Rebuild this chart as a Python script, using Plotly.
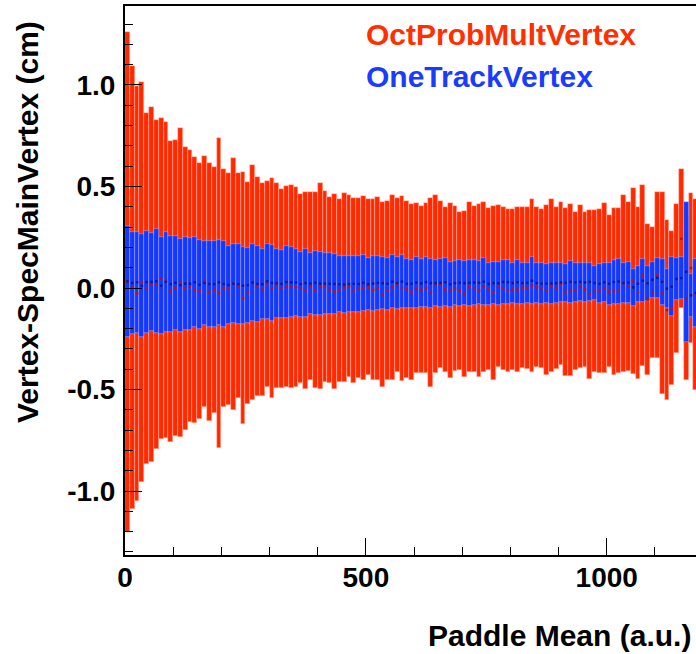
import plotly.graph_objects as go

# Bin layout: 10-unit bins starting at 0
bin_width = 10
n_bins = 119
bin_centers = [bin_width * i + bin_width / 2 for i in range(n_bins)]

# OctProbMultVertex band (upper / lower edge per bin)
red_hi = [1.26, 1.095, 0.995, 1.015, 0.862, 0.893, 0.828, 0.836, 0.816, 0.726,
          0.729, 0.79, 0.695, 0.68, 0.645, 0.617, 0.649, 0.614, 0.596, 0.737,
          0.585, 0.565, 0.639, 0.565, 0.573, 0.524, 0.604, 0.547, 0.517, 0.529,
          0.54, 0.517, 0.489, 0.504, 0.505, 0.496, 0.465, 0.474, 0.472, 0.472,
          0.516, 0.48, 0.45, 0.464, 0.44, 0.466, 0.456, 0.443, 0.443, 0.453,
          0.436, 0.436, 0.448, 0.422, 0.427, 0.46, 0.443, 0.453, 0.431, 0.414,
          0.417, 0.402, 0.417, 0.445, 0.456, 0.43, 0.397, 0.417, 0.404, 0.373,
          0.38, 0.422, 0.404, 0.412, 0.425, 0.392, 0.404, 0.407, 0.401, 0.391,
          0.39, 0.397, 0.399, 0.401, 0.436, 0.399, 0.39, 0.407, 0.436, 0.40,
          0.422, 0.393, 0.412, 0.376, 0.41, 0.373, 0.384, 0.384, 0.387, 0.417,
          0.358, 0.396, 0.393, 0.458, 0.425, 0.491, 0.401, 0.507, 0.315, 0.302,
          0.474, 0.474, 0.335, 0.281, 0.414, 0.585, 0.35, 0.466, 0.437]
red_lo = [-1.2, -1.09, -1.048, -0.957, -0.869, -0.857, -0.793, -0.744, -0.739, -0.759,
          -0.727, -0.732, -0.698, -0.658, -0.663, -0.647, -0.585, -0.654, -0.614, -0.787,
          -0.585, -0.576, -0.601, -0.542, -0.672, -0.571, -0.552, -0.532, -0.532, -0.486,
          -0.544, -0.49, -0.49, -0.486, -0.49, -0.486, -0.47, -0.496, -0.453, -0.493,
          -0.499, -0.461, -0.47, -0.499, -0.461, -0.461, -0.437, -0.47, -0.445, -0.453,
          -0.429, -0.453, -0.453, -0.486, -0.452, -0.453, -0.412, -0.456, -0.445, -0.453,
          -0.417, -0.42, -0.417, -0.486, -0.417, -0.396, -0.412, -0.445, -0.407, -0.404,
          -0.437, -0.412, -0.412, -0.437, -0.412, -0.404, -0.452, -0.391, -0.404, -0.412,
          -0.404, -0.412, -0.396, -0.401, -0.412, -0.391, -0.396, -0.429, -0.412, -0.40,
          -0.379, -0.433, -0.433, -0.404, -0.396, -0.388, -0.45, -0.412, -0.417, -0.417,
          -0.391, -0.429, -0.42, -0.412, -0.407, -0.424, -0.447, -0.384, -0.429, -0.346,
          -0.346, -0.522, -0.552, -0.478, -0.322, -0.10, -0.453, -0.269, -0.50]

# OneTrackVertex band (upper / lower edge per bin)
blue_hi = [0.305, 0.277, 0.277, 0.266, 0.281, 0.272, 0.289, 0.251, 0.276, 0.256,
           0.258, 0.243, 0.25, 0.248, 0.25, 0.236, 0.232, 0.233, 0.232, 0.238,
           0.23, 0.207, 0.217, 0.215, 0.2, 0.199, 0.215, 0.207, 0.19, 0.219,
           0.211, 0.194, 0.189, 0.207, 0.2, 0.19, 0.179, 0.192, 0.172, 0.182,
           0.177, 0.174, 0.171, 0.167, 0.158, 0.159, 0.158, 0.158, 0.158, 0.163,
           0.148, 0.158, 0.158, 0.151, 0.148, 0.161, 0.151, 0.161, 0.141, 0.138,
           0.151, 0.141, 0.151, 0.144, 0.138, 0.143, 0.146, 0.128, 0.133, 0.14,
           0.133, 0.138, 0.138, 0.131, 0.148, 0.122, 0.128, 0.13, 0.138, 0.138,
           0.125, 0.136, 0.125, 0.125, 0.151, 0.125, 0.122, 0.118, 0.122, 0.122,
           0.122, 0.118, 0.133, 0.122, 0.122, 0.122, 0.122, 0.109, 0.118, 0.122,
           0.125, 0.138, 0.144, 0.125, 0.128, 0.095, 0.109, 0.141, 0.109, 0.13,
           0.148, 0.144, 0.094, 0.151, 0.148, 0.154, 0.425, 0.069, 0.141]
blue_lo = [-0.24, -0.227, -0.22, -0.243, -0.223, -0.212, -0.223, -0.228, -0.215, -0.218,
           -0.207, -0.215, -0.207, -0.207, -0.194, -0.204, -0.182, -0.194, -0.194, -0.182,
           -0.19, -0.177, -0.174, -0.177, -0.177, -0.171, -0.161, -0.167, -0.153, -0.153,
           -0.161, -0.146, -0.149, -0.149, -0.144, -0.136, -0.141, -0.144, -0.128, -0.131,
           -0.133, -0.13, -0.128, -0.126, -0.12, -0.125, -0.118, -0.116, -0.118, -0.112,
           -0.11, -0.114, -0.108, -0.104, -0.106, -0.1, -0.102, -0.098, -0.1, -0.096,
           -0.098, -0.095, -0.093, -0.096, -0.09, -0.092, -0.089, -0.092, -0.086, -0.089,
           -0.085, -0.087, -0.084, -0.08, -0.086, -0.082, -0.079, -0.083, -0.078, -0.08,
           -0.076, -0.079, -0.077, -0.075, -0.08, -0.076, -0.078, -0.074, -0.077, -0.075,
           -0.067, -0.067, -0.072, -0.067, -0.062, -0.067, -0.062, -0.059, -0.076, -0.067,
           -0.084, -0.08, -0.08, -0.076, -0.076, -0.089, -0.067, -0.069, -0.062, -0.048,
           -0.048, -0.084, -0.1, -0.138, -0.059, -0.056, -0.264, -0.141, -0.19]

x_tick_vals = [0, 500, 1000]
x_tick_text = ["0", "500", "1000"]
y_tick_vals = [-1.0, -0.5, 0.0, 0.5, 1.0]
y_tick_text = ["-1.0", "-0.5", "0.0", "0.5", "1.0"]

series_names = ["OctProbMultVertex", "OneTrackVertex"]
x_title = "Paddle Mean (a.u.)"
y_title = "Vertex-SpecMainVertex (cm)"

RED = "#ff2a00"
BLUE = "#1438ff"
FONT = "Liberation Sans"

red_len = [h - l for h, l in zip(red_hi, red_lo)]
blue_len = [h - l for h, l in zip(blue_hi, blue_lo)]
red_mid = [(h + l) / 2 for h, l in zip(red_hi, red_lo)]
blue_mid = [(h + l) / 2 for h, l in zip(blue_hi, blue_lo)]

fig = go.Figure()
fig.add_trace(go.Bar(
    x=bin_centers, y=red_len, base=red_lo, width=bin_width,
    marker=dict(color=RED, line=dict(color="rgba(255,200,190,0.8)", width=0.6)),
    name=series_names[0], showlegend=False, hoverinfo="skip"))
fig.add_trace(go.Scatter(
    x=bin_centers, y=red_mid, mode="markers",
    marker=dict(color="#c01000", size=2.5, symbol="square"),
    showlegend=False, hoverinfo="skip"))
fig.add_trace(go.Bar(
    x=bin_centers, y=blue_len, base=blue_lo, width=bin_width,
    marker=dict(color=BLUE, line=dict(color="rgba(170,185,255,0.8)", width=0.6)),
    name=series_names[1], showlegend=False, hoverinfo="skip"))
fig.add_trace(go.Scatter(
    x=bin_centers, y=blue_mid, mode="markers",
    marker=dict(color="#0a1a9a", size=2.5, symbol="square"),
    showlegend=False, hoverinfo="skip"))

W, H = 696, 654
L, R, T, B = 125, 0, 6, 654 - 555
pw, ph = W - L - R, H - T - B

def px_x(p):  # page pixel -> paper x
    return (p - L) / pw

def px_y(p):  # page pixel -> paper y
    return (H - B - p) / ph

fig.update_layout(
    width=W, height=H,
    margin=dict(l=L, r=R, t=T, b=B, pad=0),
    paper_bgcolor="white", plot_bgcolor="white",
    barmode="overlay", bargap=0,
    font=dict(family=FONT, size=28, color="black", weight="bold"),
    xaxis=dict(
        range=[0, (696 - 125) / 0.4817], showgrid=False, zeroline=False,
        showline=True, linecolor="black", linewidth=2, mirror=True,
        ticks="inside", ticklen=17, tickwidth=1.2, tickcolor="black",
        tickvals=x_tick_vals, ticktext=x_tick_text,
        minor=dict(ticks="inside", ticklen=8, dtick=100, tick0=0, tickcolor="black", tickwidth=1),
        tickfont=dict(family=FONT, size=28, weight="bold"),
        ticklabelstandoff=-4,
    ),
    yaxis=dict(
        range=[-1.315, 1.389], showgrid=False, zeroline=False,
        showline=True, linecolor="black", linewidth=2, mirror=False,
        ticks="inside", ticklen=17, tickwidth=1.2, tickcolor="black",
        tickvals=y_tick_vals, ticktext=y_tick_text,
        minor=dict(ticks="inside", ticklen=8, dtick=0.1, tick0=0, tickcolor="black", tickwidth=1),
        tickfont=dict(family=FONT, size=28, weight="bold"),
        ticklabelstandoff=2,
    ),
    annotations=[
        dict(text=series_names[0], xref="paper", yref="paper", x=px_x(364), y=px_y(34.5),
             xanchor="left", yanchor="middle", showarrow=False,
             font=dict(family=FONT, size=30, color="#ff3000", weight="bold")),
        dict(text=series_names[1], xref="paper", yref="paper", x=px_x(364), y=px_y(76.7),
             xanchor="left", yanchor="middle", showarrow=False,
             font=dict(family=FONT, size=30, color="#1a3cff", weight="bold")),
        dict(text=x_title, xref="paper", yref="paper", x=px_x(693), y=px_y(635.5),
             xanchor="right", yanchor="middle", showarrow=False,
             font=dict(family=FONT, size=30, color="black", weight="bold")),
        dict(text=y_title, xref="paper", yref="paper", x=px_x(28), y=px_y(19),
             xanchor="center", yanchor="top", textangle=-90, showarrow=False,
             font=dict(family=FONT, size=30, color="black", weight="bold")),
    ],
)

fig.write_html(
    "out.html",
    config={"displayModeBar": False},
    post_script="document.body.style.margin='0';document.body.style.overflow='hidden';",
)
